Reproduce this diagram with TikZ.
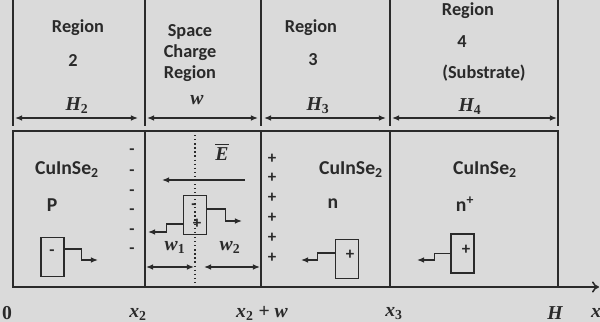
\documentclass[tikz,border=0pt]{standalone}
\usepackage{amsmath}
\usepackage{fontspec}
\setmainfont{Carlito}
\newfontfamily\labelserif{Liberation Serif}
\usepackage{xcolor}
\usepackage{tikz}
\usetikzlibrary{
    arrows.meta,
    positioning,
    calc
}
\definecolor{panelgray}{HTML}{DADADA}
\definecolor{inkgray}{HTML}{2A2A2A}
\tikzset{
    region title/.style={
        font=\fontsize{13}{15}\selectfont\bfseries, text=inkgray,
        inner sep=1pt
    },
    material/.style={
        font=\fontsize{14}{16}\selectfont\bfseries, text=inkgray,
        inner sep=1pt
    },
    math label/.style={
        font=\fontsize{14}{16}\selectfont\labelserif\bfseries\itshape,
        text=inkgray, inner sep=1pt
    },
    divider/.style={
        draw=inkgray, line width=0.9pt
    },
    wall/.style={
        draw=inkgray, line width=1.1pt
    },
    dim arrow/.style={
        {Latex[length=5pt,width=4pt]}-{Latex[length=5pt,width=4pt]},
        line width=0.9pt, color=inkgray
    },
    carrier flow/.style={
        -{Latex[length=5pt,width=4pt]}, line width=0.9pt, color=inkgray
    },
    charge box/.style={
        rectangle, draw=inkgray, line width=0.9pt,
        minimum width=0.58cm, minimum height=0.97cm, inner sep=0pt,
        font=\fontsize{12}{12}\selectfont\bfseries
    },
    fixed charge/.style={
        font=\fontsize{12}{12}\selectfont\bfseries, text=inkgray, inner sep=0pt
    },
}
\newcommand{\upsub}[1]{\textsubscript{\upshape #1}}

\begin{document}
\begin{tikzpicture}[x=0.025cm, y=-0.025cm]

    % ── Canvas ──
    \fill[panelgray] (0,0) rectangle (600,322);
    \useasboundingbox (0,0) rectangle (600,322);

    % ── Header cells ──
    \foreach \xb in {13,145,261,390,558}
        \draw[divider] (\xb,0) -- (\xb,126);

    \node[region title] (r2a) at (78,28) {Region};
    \node[region title] (r2b) at (73,61) {2};
    \node[region title] (scra) at (190,32) {Space};
    \node[region title] (scrb) at (190,53) {Charge};
    \node[region title] (scrc) at (190,74) {Region};
    \node[region title] (r3a) at (311,28) {Region};
    \node[region title] (r3b) at (313,60) {3};
    \node[region title] (r4a) at (468,11) {Region};
    \node[region title] (r4b) at (462,42) {4};
    \node[region title] (r4c) at (484,73) {(Substrate)};

    \node[math label] (hlab2) at (77,106) {H\upsub{2}};
    \node[math label] (wlab) at (197,100) {w};
    \node[math label] (hlab3) at (318,106) {H\upsub{3}};
    \node[math label] (hlab4) at (470,107) {H\upsub{4}};

    \foreach \xa/\xb [count=\i] in {15/138,147/258,264/386,392/557} {
        \coordinate (ha\i) at (\xa,118);
        \coordinate (hb\i) at (\xb,118);
        \draw[dim arrow] (ha\i) -- (hb\i);
    }

    % ── Device cross-section ──
    \draw[wall] (13,131) rectangle (558,287);
    \foreach \xb in {145,261,390}
        \draw[wall] (\xb,131) -- (\xb,287);
    \draw[inkgray, dotted, line width=0.9pt] (195,131) -- (195,287);

    \coordinate (origin) at (13,287);
    \coordinate (xend) at (599,287);
    \draw[wall, -{To[length=5pt,width=8pt]}] (origin) -- (xend);

    % ── Region 2 (p-type) ──
    \node[material] (cis2) at (67,170) {CuInSe\textsubscript{2}};
    \node[material] (ptype) at (52,205) {P};
    \foreach \yc in {152,173,193,212,232,251}
        \node[fixed charge] at (132,\yc) {-};
    \node[charge box] (elec2) at (52.5,257) {};
    \node[fixed charge] (elec2sign) at (52,253) {-};
    \coordinate (elec2end) at (98,260);
    \draw[carrier flow] ([yshift=0.2cm]elec2.east) -- ++(17,0) |- (elec2end);

    % ── Space charge region ──
    \node[math label] (efield) at (222,152) {$\overline{\mbox{E}}$};
    \coordinate (efrom) at (245,180);
    \coordinate (eto) at (162,180);
    \draw[carrier flow] (efrom) -- (eto);

    \node[charge box, fill=panelgray] (pair) at (195,215) {};
    \node[fixed charge] (pairminus) at (194,207) {-};
    \node[fixed charge] (pairplus) at (197,224) {+};
    \coordinate (pairright) at (242,221);
    \coordinate (pairleft) at (148,232);
    \draw[carrier flow] ([yshift=0.15cm]pair.east) -- ++(18,0) |- (pairright);
    \draw[carrier flow] ([yshift=-0.225cm]pair.west) -- ++(-16,0) |- (pairleft);
    \draw[inkgray, dotted, line width=0.9pt] (pair.north) -- (pair.south);

    \node[math label] (wone) at (175,247) {w\upsub{1}};
    \node[math label] (wtwo) at (230,247) {w\upsub{2}};
    \coordinate (wa) at (146,267);
    \coordinate (wb) at (194,267);
    \coordinate (wc) at (204,267);
    \coordinate (wd) at (260,267);
    \draw[dim arrow] (wa) -- (wb);
    \draw[dim arrow] (wc) -- (wd);

    % ── Region 3 (n-type) ──
    \foreach \yc in {159,178,198,218,238,258}
        \node[fixed charge] at (272,\yc) {+};
    \node[material] (cis3) at (351,170) {CuInSe\textsubscript{2}};
    \node[material] (ntype) at (333,204) {n};
    \node[charge box] (hole3) at (347,259) {};
    \node[fixed charge] (hole3sign) at (350,255) {+};
    \coordinate (hole3end) at (301,260);
    \draw[carrier flow] ([yshift=0.15cm]hole3.west) -- ++(-17,0) |- (hole3end);

    % ── Region 4 (substrate) ──
    \node[material] (cis4) at (485,170) {CuInSe\textsubscript{2}};
    \node[material] (nplus) at (465,204) {n\textsuperscript{+}};
    \node[charge box] (hole4) at (462.5,253.5) {};
    \node[fixed charge] (hole4sign) at (466,250) {+};
    \coordinate (hole4end) at (417,260);
    \draw[carrier flow] (hole4.west) -- ++(-16,0) |- (hole4end);

    % ── Axis positions ──
    \node[math label] (pos0) at (7,313) {\upshape 0};
    \node[math label] (posx2) at (138,314) {x\upsub{2}};
    \node[math label] (posx2w) at (262,313) {x\upsub{2} \upshape + \itshape w};
    \node[math label] (posx3) at (394,314) {x\upsub{3}};
    \node[math label] (posh) at (555,313) {H};
    \node[math label] (posx) at (596,313) {x};

\end{tikzpicture}
\end{document}
